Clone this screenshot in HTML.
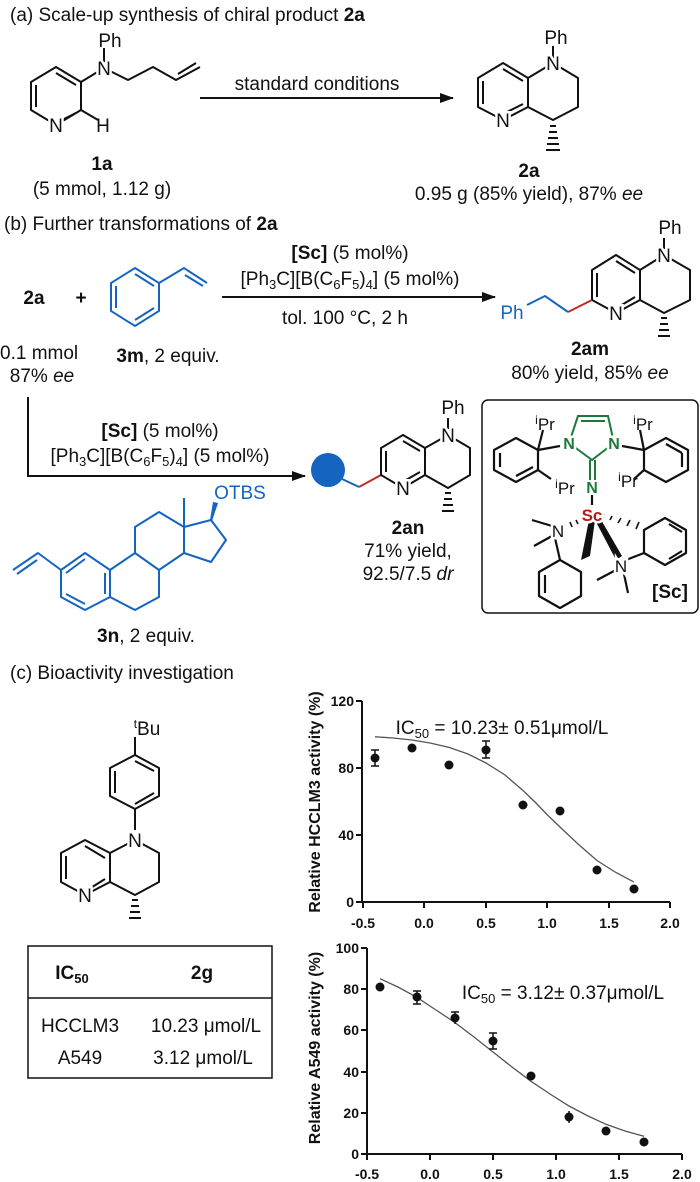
<!DOCTYPE html>
<html><head><meta charset="utf-8"><style>
html,body{margin:0;padding:0;background:#fff}
svg{display:block}
text{font-family:"Liberation Sans",Arial,sans-serif;font-size:19px;fill:#111}
.b{font-weight:bold}
.lbl{paint-order:stroke;stroke:#fff;stroke-width:5px}
.tk{font-size:14px;font-weight:bold}
.ax{font-size:16px;font-weight:bold}
</style></head><body>
<svg width="700" height="1182" viewBox="0 0 700 1182" xmlns="http://www.w3.org/2000/svg">
<defs><marker id="ah" markerWidth="14" markerHeight="10" refX="13" refY="5" orient="auto" markerUnits="userSpaceOnUse"><path d="M0,0 L14,5 L0,10 Z" fill="#111"/></marker></defs>

<!-- (a) -->
<text x="10" y="21">(a) Scale-up synthesis of chiral product <tspan class="b">2a</tspan></text>
<g stroke="#111" stroke-width="2" fill="none" stroke-linejoin="round">
 <polygon points="56,67 81,82 81,110 56,125 31,110 31,82"/>
 <line x1="56" y1="73" x2="76" y2="85"/><line x1="36" y1="85" x2="36" y2="107"/><line x1="76" y1="113" x2="62" y2="120"/>
 <polyline points="81,82 104,68 128,80 153,67 176,80 200,67"/>
 <line x1="178" y1="74" x2="196" y2="63"/>
 <line x1="104" y1="62" x2="104" y2="48"/>
 <line x1="81" y1="110" x2="98" y2="120"/>
 <line x1="200" y1="98" x2="453" y2="98" marker-end="url(#ah)"/>
 <!-- 2a -->
 <polygon points="553,63 578,78 578,107 553,120 528,107 528,78"/>
 <polygon points="528,78 503,63 478,78 478,107 503,120 528,107"/>
 <line x1="503" y1="69" x2="523" y2="81"/><line x1="483" y1="81" x2="483" y2="104"/><line x1="507" y1="112" x2="523" y2="104"/>
 <line x1="553" y1="58" x2="553" y2="46"/>
</g>
<g stroke="#111" stroke-width="2"><line x1="550" y1="126" x2="556" y2="126"/><line x1="549" y1="132" x2="557" y2="132"/><line x1="548" y1="138" x2="558" y2="138"/><line x1="547" y1="144" x2="559" y2="144"/><line x1="546" y1="150" x2="560" y2="150"/></g>
<text x="110" y="47" text-anchor="middle">Ph</text>
<text x="104" y="75" text-anchor="middle" class="lbl">N</text>
<text x="56" y="132" text-anchor="middle" class="lbl">N</text>
<text x="103" y="132" text-anchor="middle">H</text>
<text x="317" y="90" text-anchor="middle">standard conditions</text>
<text x="556" y="44" text-anchor="middle">Ph</text>
<text x="553" y="70" text-anchor="middle" class="lbl">N</text>
<text x="503" y="127" text-anchor="middle" class="lbl">N</text>
<text x="102" y="170" text-anchor="middle" class="b">1a</text>
<text x="102" y="195" text-anchor="middle">(5 mmol, 1.12 g)</text>
<text x="529" y="177" text-anchor="middle" class="b">2a</text>
<text x="529" y="200" text-anchor="middle">0.95 g (85% yield), 87% <tspan font-style="italic">ee</tspan></text>

<!-- (b) -->
<text x="4" y="230">(b) Further transformations of <tspan class="b">2a</tspan></text>
<text x="34" y="304" text-anchor="middle" class="b">2a</text>
<text x="81" y="304" text-anchor="middle" class="b">+</text>
<g stroke="#1565c0" stroke-width="2" fill="none">
 <polygon points="135,268 159,283 159,311 135,326 111,311 111,283"/>
 <line x1="135" y1="274" x2="154" y2="286"/><line x1="116" y1="286" x2="116" y2="308"/><line x1="154" y1="308" x2="135" y2="320"/>
 <polyline points="159,283 184,268 207,283"/><line x1="185" y1="275" x2="203" y2="286"/>
</g>
<text x="0" y="359">0.1 mmol</text>
<text x="42" y="382" text-anchor="middle">87% <tspan font-style="italic">ee</tspan></text>
<text x="168" y="362" text-anchor="middle"><tspan class="b">3m</tspan>, 2 equiv.</text>
<text x="350" y="259" text-anchor="middle"><tspan class="b">[Sc]</tspan> (5 mol%)</text>
<text x="350" y="285" text-anchor="middle">[Ph<tspan font-size="13" dy="4">3</tspan><tspan dy="-4">C][B(C</tspan><tspan font-size="13" dy="4">6</tspan><tspan dy="-4">F</tspan><tspan font-size="13" dy="4">5</tspan><tspan dy="-4">)</tspan><tspan font-size="13" dy="4">4</tspan><tspan dy="-4">] (5 mol%)</tspan></text>
<line x1="222" y1="297" x2="495" y2="297" stroke="#111" stroke-width="2" marker-end="url(#ah)"/>
<text x="345" y="324" text-anchor="middle">tol. 100 °C, 2 h</text>
<!-- 2am -->
<g stroke="#111" stroke-width="2" fill="none" stroke-linejoin="round">
 <polygon points="664,255 690,270 690,300 664,313 640,300 640,270"/>
 <polygon points="640,270 616,255 592,270 592,300 616,313 640,300"/>
 <line x1="616" y1="261" x2="635" y2="273"/><line x1="597" y1="273" x2="597" y2="297"/><line x1="620" y1="306" x2="635" y2="297"/>
 <line x1="664" y1="249" x2="664" y2="238"/>
</g>
<g stroke="#111" stroke-width="2"><line x1="661" y1="318" x2="667" y2="318"/><line x1="660" y1="324" x2="668" y2="324"/><line x1="659" y1="330" x2="669" y2="330"/><line x1="658" y1="336" x2="670" y2="336"/></g>
<line x1="592" y1="300" x2="568" y2="312" stroke="#c62828" stroke-width="2"/>
<polyline points="568,312 545,296 527,305" stroke="#1565c0" stroke-width="2" fill="none"/>
<text x="512" y="319" text-anchor="middle" style="fill:#1565c0">Ph</text>
<text x="670" y="234" text-anchor="middle">Ph</text>
<text x="664" y="262" text-anchor="middle" class="lbl">N</text>
<text x="616" y="320" text-anchor="middle" class="lbl">N</text>
<text x="590" y="355" text-anchor="middle" class="b">2am</text>
<text x="590" y="379" text-anchor="middle">80% yield, 85% <tspan font-style="italic">ee</tspan></text>

<!-- branch arrow -->
<polyline points="28,397 28,476 305,476" stroke="#111" stroke-width="2" fill="none" marker-end="url(#ah)"/>
<text x="160" y="437" text-anchor="middle"><tspan class="b">[Sc]</tspan> (5 mol%)</text>
<text x="160" y="462" text-anchor="middle">[Ph<tspan font-size="13" dy="4">3</tspan><tspan dy="-4">C][B(C</tspan><tspan font-size="13" dy="4">6</tspan><tspan dy="-4">F</tspan><tspan font-size="13" dy="4">5</tspan><tspan dy="-4">)</tspan><tspan font-size="13" dy="4">4</tspan><tspan dy="-4">] (5 mol%)</tspan></text>
<!-- steroid -->
<g stroke="#1565c0" stroke-width="2" fill="none" stroke-linejoin="round">
 <polygon points="85,553 110,570 110,597 85,610 61,597 61,570"/>
 <line x1="85" y1="559" x2="66" y2="573"/><line x1="105" y1="573" x2="105" y2="594"/><line x1="85" y1="604" x2="66" y2="594"/>
 <polyline points="61,570 38,553 13,570"/><line x1="37" y1="560" x2="17" y2="574"/>
 <polyline points="110,570 135,553 159,570 159,597 135,610 110,597"/>
 <polyline points="135,553 135,527 159,512 184,527 184,553 159,570"/>
 <polyline points="184,527 211,520 226,540 211,562 184,553"/>
 <line x1="184" y1="527" x2="184" y2="498"/>
</g>
<polygon points="210,520 212,521 218,503 213,502" fill="#1565c0"/>
<text x="240" y="499" text-anchor="middle" style="fill:#1565c0">OTBS</text>
<text x="146" y="642" text-anchor="middle"><tspan class="b">3n</tspan>, 2 equiv.</text>
<!-- 2an -->
<ellipse cx="328" cy="470" rx="17" ry="17" fill="#1565c0"/>
<line x1="340" y1="478" x2="359" y2="487" stroke="#1565c0" stroke-width="2"/>
<line x1="359" y1="487" x2="381" y2="475" stroke="#c62828" stroke-width="2"/>
<g stroke="#111" stroke-width="2" fill="none" stroke-linejoin="round">
 <polygon points="448,435 470,448 470,475 448,488 425,475 425,448"/>
 <polygon points="425,448 403,435 381,448 381,475 403,488 425,475"/>
 <line x1="403" y1="441" x2="420" y2="451"/><line x1="386" y1="451" x2="386" y2="472"/><line x1="406" y1="480" x2="420" y2="472"/>
 <line x1="448" y1="429" x2="448" y2="418"/>
</g>
<g stroke="#111" stroke-width="2"><line x1="445" y1="493" x2="451" y2="493"/><line x1="444" y1="499" x2="452" y2="499"/><line x1="443" y1="505" x2="453" y2="505"/><line x1="442" y1="511" x2="454" y2="511"/></g>
<text x="453" y="414" text-anchor="middle">Ph</text>
<text x="448" y="442" text-anchor="middle" class="lbl">N</text>
<text x="403" y="495" text-anchor="middle" class="lbl">N</text>
<text x="408" y="534" text-anchor="middle" class="b">2an</text>
<text x="408" y="557" text-anchor="middle">71% yield,</text>
<text x="408" y="580" text-anchor="middle">92.5/7.5 <tspan font-style="italic">dr</tspan></text>

<!-- catalyst box -->
<rect x="482" y="400" width="216" height="213" rx="6" fill="none" stroke="#111" stroke-width="1.5"/>
<g stroke="#1b7a3a" stroke-width="2" fill="none">
 <polyline points="569,443 578,416 608,416 614,443"/><line x1="581" y1="421" x2="605" y2="421"/>
 <polyline points="569,443 592,460 614,443"/>
 <line x1="590" y1="460" x2="590" y2="480"/><line x1="595" y1="460" x2="595" y2="480"/>
</g>
<g stroke="#111" stroke-width="2.2" fill="none" stroke-linejoin="round">
 <line x1="560" y1="446" x2="538" y2="450"/>
 <polygon points="538,450 516,438 494,450 494,470 516,482 538,470"/>
 <line x1="500" y1="453" x2="500" y2="467"/><line x1="516" y1="476" x2="533" y2="467"/>
 <line x1="538" y1="450" x2="543" y2="430"/><line x1="538" y1="470" x2="551" y2="479"/>
 <line x1="622" y1="446" x2="644" y2="450"/>
 <polygon points="644,450 666,438 688,450 688,470 666,482 644,470"/>
 <line x1="682" y1="453" x2="682" y2="467"/><line x1="666" y1="444" x2="682" y2="453"/>
 <line x1="644" y1="450" x2="640" y2="430"/><line x1="644" y1="470" x2="634" y2="479"/>
 <line x1="592" y1="495" x2="592" y2="505"/>
 <line x1="552" y1="526" x2="532" y2="520"/><line x1="552" y1="536" x2="534" y2="546"/>
 <polygon points="560,560 581,572 581,596 560,608 539,596 539,572"/>
 <line x1="545" y1="575" x2="545" y2="593"/>
 <line x1="560" y1="560" x2="555" y2="538"/>
 <polygon points="665,518 686,530 686,553 665,565 644,553 644,530"/>
 <line x1="669" y1="524" x2="682" y2="532"/><line x1="669" y1="559" x2="682" y2="551"/>
 <line x1="644" y1="553" x2="626" y2="560"/>
 <line x1="616" y1="570" x2="597" y2="580"/><line x1="624" y1="574" x2="628" y2="593"/>
</g>
<polygon points="589,520 595,520 590,556 581,560" fill="#111"/>
<polygon points="595,520 600,518 622,556 616,560" fill="#111"/>
<g stroke="#111" stroke-width="1.6">
 <line x1="584" y1="521" x2="582" y2="518"/><line x1="578" y1="524" x2="576" y2="520"/><line x1="572" y1="527" x2="570" y2="522"/>
 <line x1="602" y1="517" x2="604" y2="514"/><line x1="610" y1="520" x2="612" y2="516"/><line x1="618" y1="523" x2="621" y2="518"/><line x1="627" y1="526" x2="630" y2="520"/><line x1="636" y1="529" x2="639" y2="522"/>
</g>
<text x="569" y="449" text-anchor="middle" class="lbl b" style="fill:#1b7a3a;font-size:16px">N</text>
<text x="614" y="449" text-anchor="middle" class="lbl b" style="fill:#1b7a3a;font-size:16px">N</text>
<text x="592" y="493" text-anchor="middle" class="b" style="fill:#1b7a3a;font-size:16px">N</text>
<text x="592" y="521" text-anchor="middle" class="lbl b" style="fill:#b71c1c;font-size:17px">Sc</text>
<text x="558" y="537" text-anchor="middle" class="lbl" style="font-size:17px">N</text>
<text x="621" y="572" text-anchor="middle" class="lbl" style="font-size:17px">N</text>
<text x="545" y="430" text-anchor="middle" style="font-size:17px"><tspan font-size="12" dy="-6">i</tspan><tspan dy="6">Pr</tspan></text>
<text x="643" y="430" text-anchor="middle" style="font-size:17px"><tspan font-size="12" dy="-6">i</tspan><tspan dy="6">Pr</tspan></text>
<text x="565" y="494" text-anchor="middle" style="font-size:17px"><tspan font-size="12" dy="-6">i</tspan><tspan dy="6">Pr</tspan></text>
<text x="628" y="487" text-anchor="middle" style="font-size:17px"><tspan font-size="12" dy="-6">i</tspan><tspan dy="6">Pr</tspan></text>
<text x="670" y="598" text-anchor="middle" class="b">[Sc]</text>

<!-- (c) -->
<text x="10" y="679">(c) Bioactivity investigation</text>
<g stroke="#111" stroke-width="2" fill="none" stroke-linejoin="round">
 <polygon points="135,755 159,768 159,796 135,809 110,796 110,768"/>
 <line x1="135" y1="761" x2="154" y2="771"/><line x1="115" y1="771" x2="115" y2="793"/><line x1="154" y1="793" x2="135" y2="804"/>
 <line x1="135" y1="755" x2="135" y2="737"/><line x1="135" y1="809" x2="135" y2="830"/>
 <polygon points="135,840 159,853 159,882 135,895 110,882 110,853"/>
 <polygon points="110,853 85,840 61,853 61,882 85,895 110,882"/>
 <line x1="85" y1="846" x2="105" y2="858"/><line x1="66" y1="856" x2="66" y2="879"/><line x1="89" y1="889" x2="105" y2="879"/>
</g>
<g stroke="#111" stroke-width="2"><line x1="132" y1="900" x2="138" y2="900"/><line x1="131" y1="906" x2="139" y2="906"/><line x1="130" y1="912" x2="140" y2="912"/><line x1="129" y1="918" x2="141" y2="918"/></g>
<text x="147" y="735" text-anchor="middle"><tspan font-size="12" dy="-7">t</tspan><tspan dy="7">Bu</tspan></text>
<text x="135" y="847" text-anchor="middle" class="lbl">N</text>
<text x="85" y="902" text-anchor="middle" class="lbl">N</text>

<!-- table -->
<rect x="28" y="946" width="244" height="132" fill="none" stroke="#111" stroke-width="1.5"/>
<line x1="28" y1="998" x2="272" y2="998" stroke="#111" stroke-width="1.5"/>
<text x="72" y="979" text-anchor="middle" class="b">IC<tspan font-size="13" dy="4">50</tspan></text>
<text x="202" y="979" text-anchor="middle" class="b">2g</text>
<text x="80" y="1032" text-anchor="middle">HCCLM3</text>
<text x="206" y="1032" text-anchor="middle">10.23 μmol/L</text>
<text x="80" y="1064" text-anchor="middle">A549</text>
<text x="203" y="1064" text-anchor="middle">3.12 μmol/L</text>

<!-- plot 1 -->
<g stroke="#111" stroke-width="2" fill="none">
 <polyline points="362,701 362,902 670,902"/>
 <line x1="356" y1="701" x2="362" y2="701"/><line x1="356" y1="768" x2="362" y2="768"/><line x1="356" y1="835" x2="362" y2="835"/><line x1="356" y1="902" x2="362" y2="902"/>
 <line x1="363" y1="902" x2="363" y2="908"/><line x1="424" y1="902" x2="424" y2="908"/><line x1="486" y1="902" x2="486" y2="908"/><line x1="547" y1="902" x2="547" y2="908"/><line x1="609" y1="902" x2="609" y2="908"/><line x1="670" y1="902" x2="670" y2="908"/>
</g>
<polyline points="375,736.8 393,738 412,740 430,743 449,747.4 468,754 486,763 505,775 523,790.5 535,802 547,814.5 560,827 578,844 597,860.5 615,872 634,882.1" fill="none" stroke="#555" stroke-width="1.3"/>
<g stroke="#111" stroke-width="1.5"><line x1="375" y1="750" x2="375" y2="766"/><line x1="371" y1="750" x2="379" y2="750"/><line x1="371" y1="766" x2="379" y2="766"/>
<line x1="486" y1="741" x2="486" y2="758"/><line x1="482" y1="741" x2="490" y2="741"/><line x1="482" y1="758" x2="490" y2="758"/></g>
<g fill="#111"><circle cx="375" cy="758" r="4.5"/><circle cx="412" cy="748" r="4.5"/><circle cx="449" cy="765" r="4.5"/><circle cx="486" cy="750" r="4.5"/><circle cx="523" cy="805" r="4.5"/><circle cx="560" cy="811" r="4.5"/><circle cx="597" cy="870" r="4.5"/><circle cx="634" cy="889" r="4.5"/></g>
<text x="354" y="706" class="tk" text-anchor="end">120</text><text x="354" y="773" class="tk" text-anchor="end">80</text><text x="354" y="840" class="tk" text-anchor="end">40</text><text x="354" y="907" class="tk" text-anchor="end">0</text>
<text x="363" y="928" class="tk" text-anchor="middle">-0.5</text><text x="424" y="928" class="tk" text-anchor="middle">0.0</text><text x="486" y="928" class="tk" text-anchor="middle">0.5</text><text x="547" y="928" class="tk" text-anchor="middle">1.0</text><text x="609" y="928" class="tk" text-anchor="middle">1.5</text><text x="670" y="928" class="tk" text-anchor="middle">2.0</text>
<text transform="translate(320,802) rotate(-90)" class="ax" text-anchor="middle">Relative HCCLM3 activity (%)</text>
<text x="502" y="734" text-anchor="middle">IC<tspan font-size="13" dy="4">50</tspan><tspan dy="-4"> = 10.23± 0.51μmol/L</tspan></text>

<!-- plot 2 -->
<g stroke="#111" stroke-width="2" fill="none">
 <polyline points="367,948 367,1154 682,1154"/>
 <line x1="361" y1="948" x2="367" y2="948"/><line x1="361" y1="989" x2="367" y2="989"/><line x1="361" y1="1030" x2="367" y2="1030"/><line x1="361" y1="1072" x2="367" y2="1072"/><line x1="361" y1="1113" x2="367" y2="1113"/><line x1="361" y1="1154" x2="367" y2="1154"/>
 <line x1="367" y1="1154" x2="367" y2="1160"/><line x1="430" y1="1154" x2="430" y2="1160"/><line x1="493" y1="1154" x2="493" y2="1160"/><line x1="556" y1="1154" x2="556" y2="1160"/><line x1="619" y1="1154" x2="619" y2="1160"/><line x1="682" y1="1154" x2="682" y2="1160"/>
</g>
<polyline points="380,978.7 398,987 417,997.4 436,1010 455,1022.6 474,1037 493,1052 512,1067 531,1081.3 550,1094 569,1106 588,1116 606,1124.3 625,1131 644,1136.3" fill="none" stroke="#555" stroke-width="1.3"/>
<g stroke="#111" stroke-width="1.5"><line x1="417" y1="991" x2="417" y2="1004"/><line x1="413" y1="991" x2="421" y2="991"/><line x1="413" y1="1004" x2="421" y2="1004"/>
<line x1="455" y1="1012" x2="455" y2="1024"/><line x1="451" y1="1012" x2="459" y2="1012"/>
<line x1="493" y1="1033" x2="493" y2="1049"/><line x1="489" y1="1033" x2="497" y2="1033"/><line x1="489" y1="1049" x2="497" y2="1049"/>
<line x1="569" y1="1111" x2="569" y2="1123"/></g>
<g fill="#111"><circle cx="380" cy="987" r="4.5"/><circle cx="417" cy="997" r="4.5"/><circle cx="455" cy="1018" r="4.5"/><circle cx="493" cy="1041" r="4.5"/><circle cx="531" cy="1076" r="4.5"/><circle cx="569" cy="1117" r="4.5"/><circle cx="606" cy="1131" r="4.5"/><circle cx="644" cy="1142" r="4.5"/></g>
<text x="359" y="953" class="tk" text-anchor="end">100</text><text x="359" y="994" class="tk" text-anchor="end">80</text><text x="359" y="1035" class="tk" text-anchor="end">60</text><text x="359" y="1077" class="tk" text-anchor="end">40</text><text x="359" y="1118" class="tk" text-anchor="end">20</text><text x="359" y="1159" class="tk" text-anchor="end">0</text>
<text x="367" y="1179" class="tk" text-anchor="middle">-0.5</text><text x="430" y="1179" class="tk" text-anchor="middle">0.0</text><text x="493" y="1179" class="tk" text-anchor="middle">0.5</text><text x="556" y="1179" class="tk" text-anchor="middle">1.0</text><text x="619" y="1179" class="tk" text-anchor="middle">1.5</text><text x="682" y="1179" class="tk" text-anchor="middle">2.0</text>
<text transform="translate(320,1048) rotate(-90)" class="ax" text-anchor="middle">Relative A549 activity (%)</text>
<text x="563" y="999" text-anchor="middle">IC<tspan font-size="13" dy="4">50</tspan><tspan dy="-4"> = 3.12± 0.37μmol/L</tspan></text>
</svg>
</body></html>
